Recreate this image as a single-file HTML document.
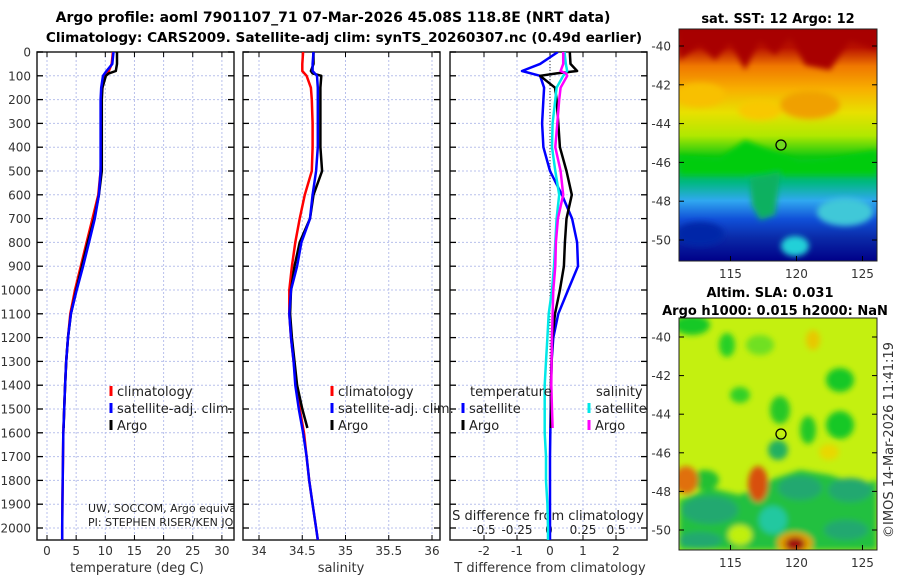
<!DOCTYPE html>
<html><head><meta charset="utf-8"><style>
body{margin:0;background:#fff;}
svg text{font-family:"DejaVu Sans","Liberation Sans",sans-serif;}
</style></head><body>
<svg id="c" width="900" height="580" viewBox="0 0 900 580" xmlns="http://www.w3.org/2000/svg">
<defs>
<linearGradient id="sstg" x1="0" y1="0" x2="0" y2="1">
<stop offset="0" stop-color="#a00000"/><stop offset="0.08" stop-color="#b81000"/><stop offset="0.16" stop-color="#f07800"/>
<stop offset="0.26" stop-color="#f8b000"/><stop offset="0.36" stop-color="#e8e000"/><stop offset="0.46" stop-color="#b0e800"/>
<stop offset="0.55" stop-color="#10c810"/><stop offset="0.66" stop-color="#00b880"/><stop offset="0.74" stop-color="#30a8f0"/>
<stop offset="0.82" stop-color="#1050d8"/><stop offset="0.9" stop-color="#0a2aa8"/><stop offset="1" stop-color="#000088"/>
</linearGradient>
<filter id="bl" x="-50%" y="-50%" width="200%" height="200%"><feGaussianBlur stdDeviation="3"/></filter>
<clipPath id="m1c"><rect x="679" y="29" width="198" height="232"/></clipPath>
<clipPath id="m2c"><rect x="679" y="318" width="198" height="232"/></clipPath>
<clipPath id="p1c"><rect x="37" y="52" width="197" height="488"/></clipPath>
<clipPath id="p2c"><rect x="243" y="52" width="197" height="488"/></clipPath>
<clipPath id="p3c"><rect x="450" y="52" width="197" height="488"/></clipPath>
</defs>
<text x="333" y="22" font-size="14" font-weight="bold" text-anchor="middle">Argo profile: aoml 7901107_71 07-Mar-2026 45.08S 118.8E (NRT data)</text>
<text x="344" y="42" font-size="13.6" font-weight="bold" text-anchor="middle">Climatology: CARS2009. Satellite-adj clim: synTS_20260307.nc (0.49d earlier)</text>

<g clip-path="url(#m1c)">
<rect x="679" y="29" width="198" height="232" fill="url(#sstg)"/>
<g filter="url(#bl)">
<path d="M679,60 L700,45 L715,60 L730,42 L745,70 L760,40 L775,55 L790,35 L805,65 L830,70 L850,40 L877,50 L877,29 L679,29Z" fill="#a80000"/>
<ellipse cx="700" cy="95" rx="25" ry="12" fill="#f8c000"/>
<ellipse cx="810" cy="105" rx="30" ry="14" fill="#f0a000"/>
<ellipse cx="760" cy="110" rx="22" ry="10" fill="#f8c800"/>
<path d="M679,155 L720,158 L745,140 L770,150 L800,160 L830,158 L877,150 L877,175 L679,175Z" fill="#00cc10"/>
<path d="M750,178 L780,172 L775,215 L760,220 L752,205Z" fill="#10b060"/>
<ellipse cx="845" cy="212" rx="28" ry="14" fill="#40c8d8"/>
<ellipse cx="700" cy="234" rx="24" ry="12" fill="#0028a8"/>
<ellipse cx="795" cy="246" rx="14" ry="10" fill="#20d0d8"/>
</g>
</g>
<rect x="679" y="29" width="198" height="232" fill="none" stroke="#222"/>
<circle cx="781" cy="145" r="5" fill="#70d820" stroke="#000" stroke-width="1.3"/>
<text x="778" y="23" font-size="13" font-weight="bold" text-anchor="middle">sat. SST: 12 Argo: 12</text>

<g clip-path="url(#m2c)">
<rect x="679" y="318" width="198" height="232" fill="#c4f010"/>
<g filter="url(#bl)">
<ellipse cx="692" cy="325" rx="18" ry="10" fill="#18c828"/>
<ellipse cx="727" cy="345" rx="8" ry="12" fill="#28d028"/>
<ellipse cx="760" cy="345" rx="14" ry="10" fill="#70e020"/>
<ellipse cx="840" cy="425" rx="14" ry="14" fill="#18c828"/>
<ellipse cx="780" cy="410" rx="10" ry="14" fill="#28c828"/>
<ellipse cx="808" cy="430" rx="8" ry="14" fill="#20c828"/>
<ellipse cx="840" cy="380" rx="14" ry="12" fill="#18c828"/>
<ellipse cx="740" cy="395" rx="10" ry="8" fill="#30d028"/>
<ellipse cx="705" cy="480" rx="14" ry="10" fill="#20c030"/>
<ellipse cx="778" cy="450" rx="10" ry="10" fill="#20b060"/>
<path d="M679,500 L710,488 L740,495 L770,480 L800,470 L830,475 L860,485 L877,480 L877,550 L679,550Z" fill="#20c040"/>
<ellipse cx="800" cy="488" rx="22" ry="12" fill="#20a870"/>
<ellipse cx="850" cy="490" rx="22" ry="12" fill="#20a870"/>
<ellipse cx="710" cy="510" rx="28" ry="14" fill="#20a870"/>
<ellipse cx="773" cy="520" rx="14" ry="14" fill="#20c8a0"/>
<ellipse cx="700" cy="540" rx="22" ry="8" fill="#20a870"/>
<ellipse cx="846" cy="530" rx="22" ry="10" fill="#20a870"/>
<ellipse cx="740" cy="535" rx="12" ry="10" fill="#c0f010"/>
<ellipse cx="686" cy="480" rx="12" ry="14" fill="#e07010"/>
<ellipse cx="758" cy="484" rx="10" ry="18" fill="#d85010"/>
<ellipse cx="795" cy="543" rx="18" ry="11" fill="#e0a000"/>
<ellipse cx="795" cy="544" rx="10" ry="7" fill="#a01010"/>
<ellipse cx="813" cy="340" rx="7" ry="10" fill="#e8c800"/>
<ellipse cx="829" cy="452" rx="10" ry="8" fill="#e8d800"/>
</g>
</g>
<rect x="679" y="318" width="198" height="232" fill="none" stroke="#222"/>
<circle cx="781" cy="434" r="5" fill="none" stroke="#000" stroke-width="1.3"/>
<text x="770" y="297" font-size="13" font-weight="bold" text-anchor="middle">Altim. SLA: 0.031</text>
<text x="775" y="315" font-size="13" font-weight="bold" text-anchor="middle">Argo h1000: 0.015 h2000: NaN</text>
<text transform="translate(893,440) rotate(-90)" font-size="13" fill="#333" text-anchor="middle">©IMOS 14-Mar-2026 11:41:19</text>
<g id="mapAxes"></g>
<g id="plots"></g>
</svg>
<script>
const pres = [0,50,80,100,150,200,300,400,500,600,700,800,900,1000,1100,1200,1300,1400,1500,1600,1700,1800,1900,2000,2050];
const tClim = [11.3,11.1,10.6,10,9.5,9.3,9.3,9.3,9.2,8.8,7.8,6.8,5.8,4.8,4.0,3.6,3.3,3.1,2.95,2.8,2.75,2.7,2.65,2.6,2.6];
const tSat = [11.4,11.2,10.2,9.6,9.3,9.2,9.2,9.2,9.2,8.9,8.2,7.2,6.2,5.1,4.1,3.6,3.3,3.1,2.95,2.8,2.75,2.7,2.65,2.6,2.6];
const sClim = [34.51,34.5,34.5,34.55,34.6,34.61,34.62,34.62,34.61,34.53,34.47,34.42,34.38,34.35,34.35,34.37,34.4,34.43,34.47,34.52,34.55,34.58,34.62,34.66,34.68];
const sSat = [34.63,34.62,34.62,34.67,34.68,34.68,34.68,34.68,34.66,34.62,34.59,34.49,34.44,34.37,34.35,34.37,34.4,34.42,34.46,34.51,34.55,34.58,34.62,34.66,34.68];
const argoPres = [0,50,80,90,100,150,200,300,400,500,600,700,800,900,1000,1100,1200,1300,1400,1500,1580];
const tArgo = [12,12,11.8,10.6,10.1,9.5,9.4,9.4,9.4,9.4,8.9,8.1,7.0,6.0,5.0,4.1,3.6,3.3,3.1,2.95,2.85];
const sArgo = [34.63,34.63,34.6,34.62,34.72,34.71,34.71,34.71,34.71,34.73,34.63,34.59,34.47,34.41,34.37,34.36,34.38,34.41,34.44,34.5,34.56];
const dTSat = [0.24,-0.3,-0.85,-0.3,-0.18,-0.2,-0.24,-0.2,0,0.36,0.67,0.82,0.85,0.55,0.25,0.1,0.05,0.03,0.02,0.01,0,0,0,0,0];
const dTArgo = [0.6,0.62,0.82,0.2,-0.3,0.15,0.2,0.25,0.3,0.5,0.66,0.5,0.45,0.42,0.3,0.15,0.07,0.05,0.03,0.03,0.03];
const dSSat = [0.11,0.12,0.13,0.1,0.05,0.04,0.02,0.015,0.04,0.07,0.05,0.04,0.03,0.015,-0.01,-0.02,-0.03,-0.04,-0.04,-0.04,-0.03,-0.03,-0.02,-0.015,-0.015];
const dSArgo = [0.1,0.1,0.08,0.12,0.13,0.08,0.07,0.055,0.04,0.08,0.1,0.06,0.045,0.04,0.025,0.02,0.015,0.012,0.01,0.015,0.02];
const yTicks = [0,100,200,300,400,500,600,700,800,900,1000,1100,1200,1300,1400,1500,1600,1700,1800,1900,2000];
const tTicks = [0,5,10,15,20,25,30];
const sTicks = [34,34.5,35,35.5,36];
const dTTicks = [-2,-1,0,1,2];
const dSTicks = [-0.5,-0.25,0,0.25,0.5];
const dSLabels = ['-0.5','-0.25','0','0.25','0.5'];
const latTicks = [-40,-42,-44,-46,-48,-50];
const lonTicks = [115,120,125];

const NS='http://www.w3.org/2000/svg';
const plots=document.getElementById('plots');
function el(tag,attrs,parent,txt){const e=document.createElementNS(NS,tag);for(const k in attrs)e.setAttribute(k,attrs[k]);if(txt!==undefined)e.textContent=txt;(parent||plots).appendChild(e);return e;}
const Y0=52,YB=540;
const yP=p=>Y0+p*0.238;
const xT=t=>47+t*5.83;
const xS=s=>259+(s-34)*86.5;
const xDT=d=>550+d*33;
const xDS=d=>550+d*132;

const panels=[{x0:37,x1:234,clip:'p1c',name:'temperature-panel'},{x0:243,x1:440,clip:'p2c',name:'salinity-panel'},{x0:450,x1:647,clip:'p3c',name:'difference-panel'}];
const xticksets=[[tTicks,xT,tTicks.map(String)],[sTicks,xS,sTicks.map(String)],[dTTicks,xDT,dTTicks.map(String)]];
panels.forEach((P,i)=>{
  const g=el('g',{});
  
  
  const [tk,fx,lb]=xticksets[i];
  yTicks.forEach(p=>{const l=el('line',{x1:P.x0,x2:P.x1,y1:yP(p),y2:yP(p),stroke:'#b8c0ec','stroke-width':1,'stroke-dasharray':'2,2'},g);});
  tk.forEach(v=>{const l=el('line',{x1:fx(v),x2:fx(v),y1:Y0,y2:YB,stroke:'#b8c0ec','stroke-width':1,'stroke-dasharray':'2,2'},g);});
  const fr=el('rect',{x:P.x0,y:Y0,width:P.x1-P.x0,height:YB-Y0,fill:'none',stroke:'#222','stroke-width':1.5},g);
  
  yTicks.forEach(p=>{el('line',{x1:P.x0,x2:P.x0+6,y1:yP(p),y2:yP(p),stroke:'#000','stroke-width':1.3},g);el('line',{x1:P.x1-6,x2:P.x1,y1:yP(p),y2:yP(p),stroke:'#000','stroke-width':1.3},g);});
  tk.forEach((v,j)=>{
    el('line',{x1:fx(v),x2:fx(v),y1:YB-5,y2:YB,stroke:'#000'},g);el('line',{x1:fx(v),x2:fx(v),y1:Y0,y2:Y0+5,stroke:'#000'},g);
    const t=el('text',{x:fx(v),y:555,'font-size':12,fill:'#333','text-anchor':'middle'},g,lb[j]);
    
  });
});
yTicks.forEach(p=>{const t=el('text',{x:31,y:yP(p)+4.5,'font-size':12,fill:'#333','text-anchor':'end'},plots,String(p));
  });
[['temperature (deg C)',137,'x-axis-title-temperature'],['salinity',341,'x-axis-title-salinity'],['T difference from climatology',550,'x-axis-title-t-diff']].forEach(a=>{
  const t=el('text',{x:a[1],y:572,'font-size':13,fill:'#333','text-anchor':'middle'},plots,a[0]);
  });

const sAxis=el('g',{'clip-path':'url(#p3c)'});
const sat=el('text',{x:548,y:520,'font-size':13,fill:'#222','text-anchor':'middle'},sAxis,'S difference from climatology');

dSTicks.forEach((v,j)=>{const t=el('text',{x:xDS(v)+(v===0?-1:0),y:534,'font-size':12,fill:'#222','text-anchor':'middle'},sAxis,dSLabels[j]);
  });
const zl=el('line',{x1:xDT(0),x2:xDT(0),y1:Y0,y2:YB,stroke:'#333','stroke-width':1,'stroke-dasharray':'1,2'});


function line(xs,ps,fx,color,clip,name,w){
  const d=xs.map((v,i)=>(i?'L':'M')+fx(v).toFixed(1)+','+yP(ps[i]).toFixed(1)).join(' ');
  const p=el('path',{d:d,fill:'none',stroke:color,'stroke-width':w||2.5,'stroke-linejoin':'round','clip-path':'url(#'+clip+')'});
  
}
line(tClim,pres,xT,'#ff0000','p1c','temp-climatology-line');
line(tArgo,argoPres,xT,'#000','p1c','temp-argo-line');
line(tSat,pres,xT,'#0000ff','p1c','temp-satellite-line');
line(sClim,pres,xS,'#ff0000','p2c','sal-climatology-line');
line(sArgo,argoPres,xS,'#000','p2c','sal-argo-line');
line(sSat,pres,xS,'#0000ff','p2c','sal-satellite-line');
line(dTSat,pres,xDT,'#0000ff','p3c','t-diff-satellite-line');
line(dTArgo,argoPres,xDT,'#000','p3c','t-diff-argo-line');
line(dSSat,pres,xDS,'#00e8e8','p3c','s-diff-satellite-line');
line(dSArgo,argoPres,xDS,'#ff00ff','p3c','s-diff-argo-line');

function leg(x,y,color,label,name){
  const g=el('g',{});
  el('line',{x1:x,x2:x,y1:y-6,y2:y+4,stroke:color,'stroke-width':3},g);
  el('text',{x:x+6,y:y+4,'font-size':13,fill:'#222'},g,label);
}
leg(111,392,'#ff0000','climatology','legend-entry-climatology');
leg(111,409,'#0000ff','satellite-adj. clim.','legend-entry-satellite');
leg(111,426,'#000','Argo','legend-entry-argo');
leg(332,392,'#ff0000','climatology','legend-entry-sal-climatology');
leg(332,409,'#0000ff','satellite-adj. clim.','legend-entry-sal-satellite');
leg(332,426,'#000','Argo','legend-entry-sal-argo');
const th=el('text',{x:470,y:396,'font-size':13,fill:'#222'},plots,'temperature');
const sh=el('text',{x:596,y:396,'font-size':13,fill:'#222'},plots,'salinity');
leg(463,409,'#0000ff','satellite','legend-entry-t-satellite');
leg(463,426,'#000','Argo','legend-entry-t-argo');
leg(589,409,'#00e8e8','satellite','legend-entry-s-satellite');
leg(589,426,'#ff00ff','Argo','legend-entry-s-argo');
const note=el('g',{'clip-path':'url(#p1c)'});

el('text',{x:88,y:512,'font-size':11,fill:'#222'},note,'UW, SOCCOM, Argo equivalent');
el('text',{x:88,y:526,'font-size':11,fill:'#222'},note,'PI: STEPHEN RISER/KEN JOHNSON');

const ma=document.getElementById('mapAxes');
const lonX=l=>679+(l-111.1)*13.2;
[[46,19.4,261,'sst'],[337,19.3,550,'sla']].forEach(m=>{
  latTicks.forEach(la=>{const y=m[0]+(-40-la)*m[1];
    el('line',{x1:679,x2:684,y1:y,y2:y,stroke:'#000'},ma);el('line',{x1:872,x2:877,y1:y,y2:y,stroke:'#000'},ma);
    const t=el('text',{x:671,y:y+4.5,'font-size':12,fill:'#333','text-anchor':'end'},ma,String(la));
    });
  lonTicks.forEach(lo=>{const x=lonX(lo);
    el('line',{x1:x,x2:x,y1:m[2]-5,y2:m[2],stroke:'#000'},ma);
    const t=el('text',{x:x,y:m[2]+17,'font-size':12,fill:'#333','text-anchor':'middle'},ma,String(lo));
    });
});
</script>
</body></html>
